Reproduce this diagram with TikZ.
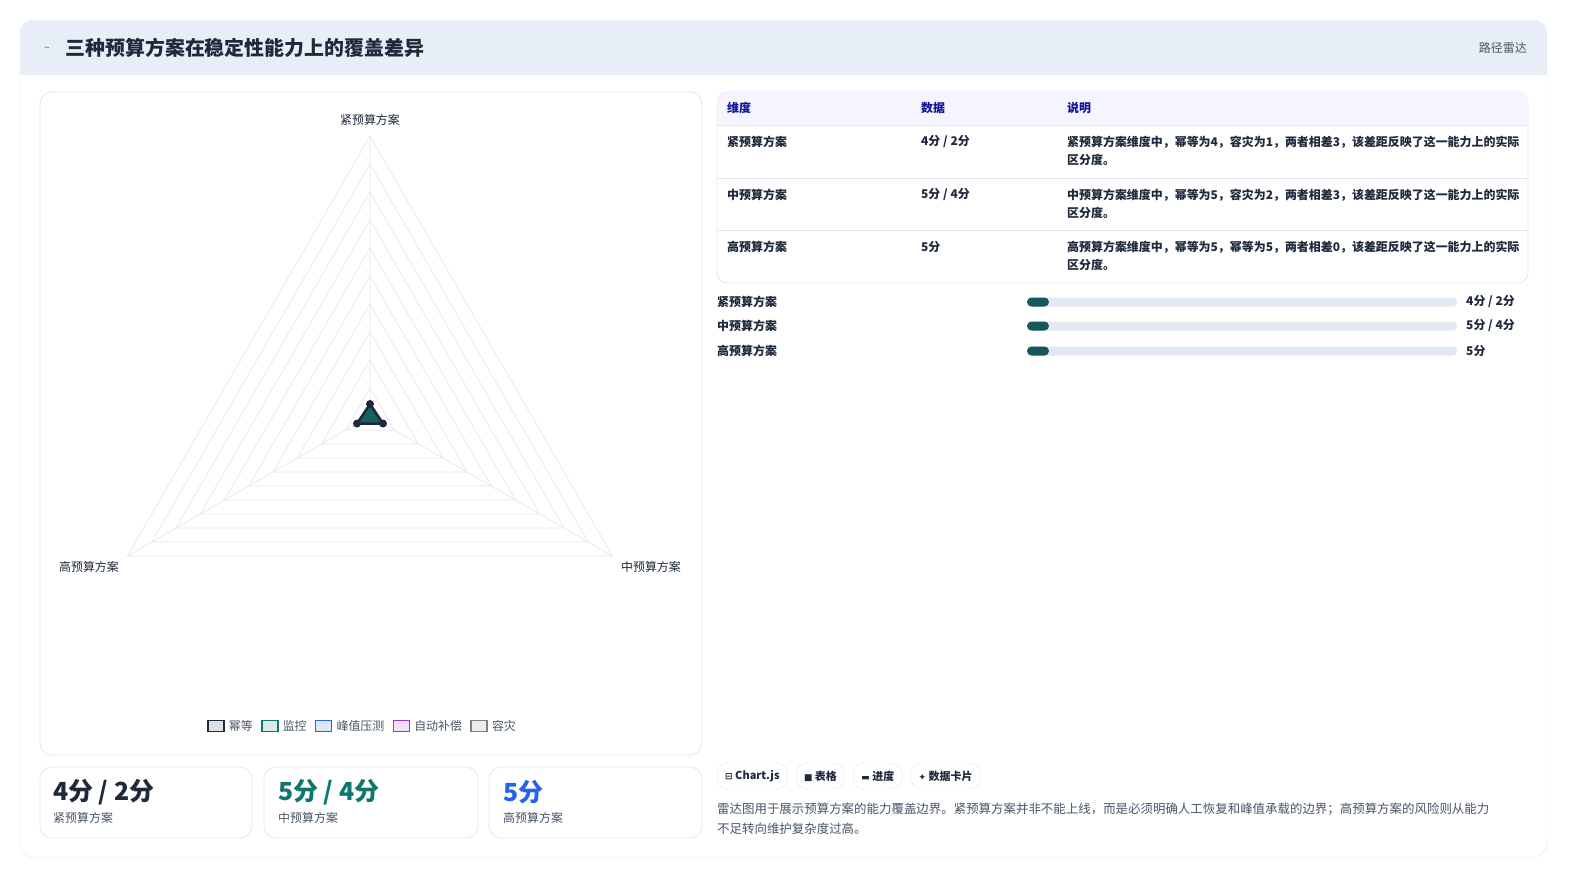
\documentclass[tikz,border=0pt]{standalone}
\usepackage{fontspec}
\setmainfont{Noto Sans CJK SC}
\newfontfamily\symfont{DejaVu Sans}
\usetikzlibrary{positioning,calc}
\definecolor{ink}{HTML}{1E293B}
\definecolor{soft}{HTML}{475569}
\definecolor{grid}{HTML}{E2E8F0}
\definecolor{teal}{HTML}{0F766E}
\definecolor{blu}{HTML}{2563EB}
\definecolor{purp}{HTML}{9333EA}
\definecolor{hdr}{HTML}{E8EEF5}
\tikzset{
  panel/.style={draw=grid, fill=white, rounded corners=12bp, line width=0.8bp},
  txt/.style={font=\fontsize{12}{15}\selectfont\bfseries, text=ink, inner sep=0pt},
  lbl/.style={font=\fontsize{12}{15}\selectfont, text=soft, inner sep=0pt},
  ring/.style={draw=grid, line width=0.7bp},
  chip/.style={draw=grid, fill=white, rounded corners=11bp, minimum height=26bp, font=\fontsize{11}{13}\selectfont\bfseries, text=ink, inner xsep=8bp},
  swatch/.style={draw=#1, line width=1.5bp, fill=#1!15, minimum width=16bp, minimum height=11bp, inner sep=0pt},
  track/.style={fill=grid, rounded corners=4bp},
  bigval/.style={font=\fontsize{25}{28}\selectfont\bfseries, inner sep=0pt, anchor=west}
}
\begin{document}
\begin{tikzpicture}[x=1bp,y=-1bp]
\useasboundingbox[fill=white] (0,0) rectangle (1579,884);
%%% outer card and header %%%
\draw[draw=grid, fill=white, rounded corners=14bp] (20,20) rectangle (1547,857);
\begin{scope}
\clip[rounded corners=14bp] (20,20) rectangle (1547,857);
\fill[hdr] (20,20) rectangle (1547,75);
\end{scope}
\node[font=\fontsize{10}{10}\selectfont, text=blu] (icon) at (47,49) {\textasciitilde};
\node[font=\fontsize{20}{24}\selectfont\bfseries, text=ink, anchor=west] (title) at (62,48) {三种预算方案在稳定性能力上的覆盖差异};
\node[lbl, anchor=east] (tag) at (1527,48) {路径雷达};

%%% radar panel %%%
\draw[panel] (40,92) rectangle (702,755);
\coordinate (c) at (370,416);
\foreach \r in {28,56,...,280}
  \draw[ring] ($(c)+(90:-\r)$) -- ($(c)+(-30:-\r)$) -- ($(c)+(210:-\r)$) -- cycle;
\draw[ring] (c) -- ++(0,-280) (c) -- ++(-30:-280) (c) -- ++(210:-280);
\draw[fill=teal!70!ink, draw=ink, line width=2.5bp, line join=round]
  ($(c)+(0,-12)$) coordinate (p1) -- ($(c)+(210:-15)$) coordinate (p2) -- ($(c)+(-30:-15)$) coordinate (p3) -- cycle;
\foreach \p in {p1,p2,p3} \fill[ink] (\p) circle (4bp);
\node[lbl, text=ink] (ax1) at (370,120) {紧预算方案};
\node[lbl, text=ink] (ax2) at (651,567) {中预算方案};
\node[lbl, text=ink] (ax3) at (89,567) {高预算方案};
%% legend
\node[swatch=ink] (s1) at (216,726) {};
\node[lbl, anchor=west, right=4bp of s1] (l1) {幂等};
\node[swatch=teal, right=8bp of l1] (s2) {};
\node[lbl, anchor=west, right=4bp of s2] (l2) {监控};
\node[swatch=blu, right=8bp of l2] (s3) {};
\node[lbl, anchor=west, right=4bp of s3] (l3) {峰值压测};
\node[swatch=purp, right=8bp of l3] (s4) {};
\node[lbl, anchor=west, right=4bp of s4] (l4) {自动补偿};
\node[swatch=gray, right=8bp of l4] (s5) {};
\node[lbl, anchor=west, right=4bp of s5] (l5) {容灾};

%%% value cards %%%
\draw[panel] (40,767) rectangle (252,838);
\draw[panel] (264,767) rectangle (478,838);
\draw[panel] (489,767) rectangle (702,838);
\node[bigval, text=ink] (v1) at (53,792) {4分 / 2分};
\node[bigval, text=teal] (v2) at (278,792) {5分 / 4分};
\node[bigval, text=blu] (v3) at (503,792) {5分};
\node[lbl, anchor=west] (n1) at (53,818) {紧预算方案};
\node[lbl, anchor=west] (n2) at (278,818) {中预算方案};
\node[lbl, anchor=west] (n3) at (503,818) {高预算方案};

%%% table %%%
\draw[panel, rounded corners=10bp] (717,92) rectangle (1528,283);
\begin{scope}
\clip[rounded corners=10bp] (717,92) rectangle (1528,283);
\fill[blue!4] (717,92) rectangle (1528,125);
\end{scope}
\draw[grid] (717,125) -- (1528,125) (717,178) -- (1528,178) (717,230) -- (1528,230);
\node[txt, text=blue!50!ink, anchor=west] (h1) at (727,108) {维度};
\node[txt, text=blue!50!ink, anchor=west] (h2) at (921,108) {数据};
\node[txt, text=blue!50!ink, anchor=west] (h3) at (1067,108) {说明};
\foreach \y/\a/\b/\c in {142/紧/{4分 / 2分}/{紧预算方案维度中，幂等为4，容灾为1，两者相差3，该差距反映了这一能力上的实际},
                          195/中/{5分 / 4分}/{中预算方案维度中，幂等为5，容灾为2，两者相差3，该差距反映了这一能力上的实际},
                          247/高/{5分}/{高预算方案维度中，幂等为5，幂等为5，两者相差0，该差距反映了这一能力上的实际}}{
  \node[txt, anchor=west] at (727,\y) {\a 预算方案};
  \node[txt, anchor=west] at (921,\y) {\b};
  \node[txt, anchor=west] at (1067,\y) {\c};
  \node[txt, anchor=west] at (1067,\y+18) {区分度。};
}

%%% progress bars %%%
\foreach \y/\a/\b in {302/紧/{4分 / 2分}, 326/中/{5分 / 4分}, 351/高/{5分}}{
  \node[txt, anchor=west] at (717,\y) {\a 预算方案};
  \fill[track] (1027,\y-4.5) rectangle (1457,\y+4.5);
  \fill[teal!60!ink, rounded corners=4.5bp] (1027,\y-4.5) rectangle (1049,\y+4.5);
  \node[txt, anchor=west] at (1466,\y) {\b};
}

%%% chips and note %%%
\node[chip, anchor=west] (k1) at (717,776) {{\symfont\small ⊟} Chart.js};
\node[chip, right=8bp of k1] (k2) {{\symfont\small ■} 表格};
\node[chip, right=8bp of k2] (k3) {{\symfont\small ▬} 进度};
\node[chip, right=8bp of k3] (k4) {{\symfont\small ✦} 数据卡片};
\node[lbl, font=\fontsize{12.5}{15}\selectfont, anchor=west] (note1) at (717,809) {雷达图用于展示预算方案的能力覆盖边界。紧预算方案并非不能上线，而是必须明确人工恢复和峰值承载的边界；高预算方案的风险则从能力};
\node[lbl, font=\fontsize{12.5}{15}\selectfont, anchor=west] (note2) at (717,829) {不足转向维护复杂度过高。};
\end{tikzpicture}
\end{document}
